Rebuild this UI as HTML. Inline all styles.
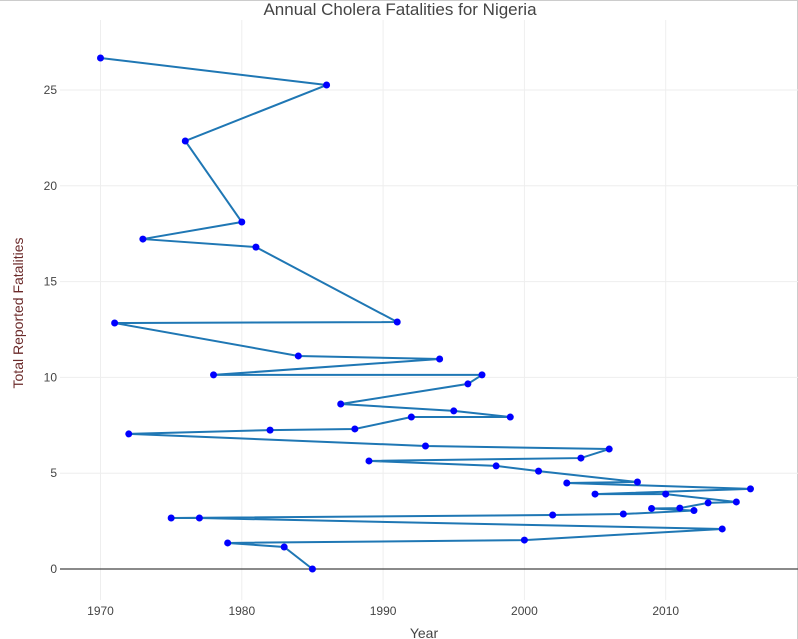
<!DOCTYPE html>
<html><head><meta charset="utf-8">
<style>
body{margin:0;background:#fff;font-family:"Liberation Sans",sans-serif;}
svg{display:block}
</style></head>
<body>
<svg id="chart" width="798" height="639" xmlns="http://www.w3.org/2000/svg">
<rect x="0" y="0" width="798" height="639" fill="#fff"/>
<line x1="0" y1="0.5" x2="798" y2="0.5" stroke="#ccc"/>
<line x1="797.5" y1="0" x2="797.5" y2="639" stroke="#ccc"/>
<text x="400" y="15" text-anchor="middle" font-size="17" fill="#444">Annual Cholera Fatalities for Nigeria</text>
<text x="424" y="638" text-anchor="middle" font-size="14" fill="#444">Year</text>
<text transform="translate(23,313) rotate(-90)" text-anchor="middle" font-size="14" fill="#6b2a2a">Total Reported Fatalities</text>
<g id="grid"></g><g id="series"></g><g id="ticks"></g>
</svg>
<script>
const years=[1970,1986,1976,1980,1973,1981,1991,1971,1984,1994,1978,1997,1996,1987,1995,1999,1992,1988,1982,1972,1993,2006,2004,1989,1998,2001,2008,2003,2016,2005,2010,2015,2013,2011,2009,2012,2007,2002,1975,1977,2014,2000,1979,1983,1985];
const deaths=[26.67,25.26,22.34,18.11,17.22,16.8,12.89,12.84,11.12,10.96,10.13,10.13,9.66,8.61,8.25,7.93,7.93,7.31,7.25,7.05,6.42,6.26,5.79,5.64,5.38,5.11,4.54,4.49,4.18,3.91,3.91,3.50,3.45,3.18,3.16,3.05,2.87,2.82,2.66,2.66,2.09,1.51,1.36,1.15,0];
const xTicks=[1970,1980,1990,2000,2010];
const yTicks=[0,5,10,15,20,25];
const NS="http://www.w3.org/2000/svg";
function X(v){return 100.5+(v-1970)*14.13;}
function Y(v){return 569-v*19.16;}
function mk(tag,attrs,parent){const e=document.createElementNS(NS,tag);for(const k in attrs)e.setAttribute(k,attrs[k]);document.getElementById(parent).appendChild(e);return e;}
xTicks.forEach(t=>{
  const g=mk('line',{x1:X(t),x2:X(t),y1:20,y2:600,stroke:'#eee'},'grid');
  
  
  const l=mk('text',{x:X(t),y:615,'text-anchor':'middle','font-size':12,fill:'#444'},'ticks');
  l.textContent=t;
  
  
});
yTicks.forEach(t=>{
  const g=mk('line',{x1:60,x2:798,y1:Y(t),y2:Y(t),stroke:t===0?'#444':'#eee','stroke-width':t===0?1.3:1},'grid');
  
  
  const l=mk('text',{x:57,y:Y(t)+4,'text-anchor':'end','font-size':12,fill:'#444'},'ticks');
  l.textContent=t;
  
  
});
const pts=years.map((y,i)=>X(y)+','+Y(deaths[i])).join(' ');
const line=mk('polyline',{points:pts,fill:'none',stroke:'#1f77b4','stroke-width':2},'series');


years.forEach((y,i)=>{
  const c=mk('circle',{cx:X(y),cy:Y(deaths[i]),r:3.5,fill:'#0000ff'},'series');
  
  
});
</script>
</body></html>
